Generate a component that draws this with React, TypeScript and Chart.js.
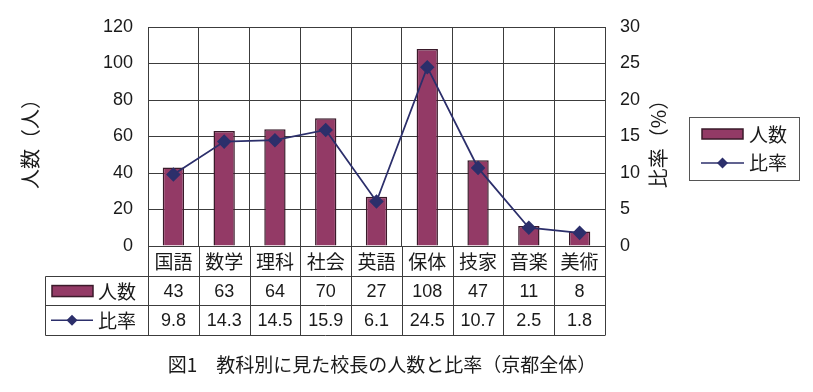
import React, { useEffect, useRef } from 'react';
import { Chart, registerables } from 'chart.js';

Chart.register(...registerables);

// ---- data ----
const categories = ['国語', '数学', '理科', '社会', '英語', '保体', '技家', '音楽', '美術'];
const counts = [43, 63, 64, 70, 27, 108, 47, 11, 8];
const ratios = [9.8, 14.3, 14.5, 15.9, 6.1, 24.5, 10.7, 2.5, 1.8];
const seriesLabels = ['人数', '比率'];
const countAxis = [0, 120, 20]; // min, max, step
const ratioAxis = [0, 30, 5];
const leftTitle = '人数（人）';
const rightTitle = '比率（%）';
const caption = '図1　教科別に見た校長の人数と比率（京都全体）';

// ---- styles ----
const BAR_COLOR = '#933A66';
const BAR_BORDER = '#3A1A2A';
const LINE_COLOR = '#2C2F6B';
const GRID = '#3c3c3c';
const TEXT = '#1a1a1a';
const CJK = '"Noto Sans CJK JP", "Noto Sans", sans-serif';
const NUM = '"Liberation Sans", Arial, sans-serif';

function drawDiamond(ctx: CanvasRenderingContext2D, cx: number, cy: number, r: number) {
  ctx.beginPath();
  ctx.moveTo(cx, cy - r);
  ctx.lineTo(cx + r, cy);
  ctx.lineTo(cx, cy + r);
  ctx.lineTo(cx - r, cy);
  ctx.closePath();
  ctx.fillStyle = LINE_COLOR;
  ctx.fill();
}

function drawBarKey(ctx: CanvasRenderingContext2D, x: number, y: number, w: number, h: number) {
  ctx.fillStyle = BAR_COLOR;
  ctx.fillRect(x, y, w, h);
  ctx.strokeStyle = BAR_BORDER;
  ctx.lineWidth = 1.5;
  ctx.strokeRect(x, y, w, h);
}

function drawLineKey(ctx: CanvasRenderingContext2D, x1: number, x2: number, y: number) {
  ctx.strokeStyle = LINE_COLOR;
  ctx.lineWidth = 1.5;
  ctx.beginPath();
  ctx.moveTo(x1, y);
  ctx.lineTo(x2, y);
  ctx.stroke();
  drawDiamond(ctx, (x1 + x2) / 2, y, 5.5);
}

const decorPlugin = {
  id: 'decor',
  afterDraw(chart: any) {
    const ctx: CanvasRenderingContext2D = chart.ctx;
    const { left, right, bottom } = chart.chartArea;
    const n = categories.length;
    const cw = (right - left) / n;
    const rowH = 29.7;
    const tableLeft = 45.5;
    const a = (v: number) => Math.round(v) + 0.5;
    const line = (x1: number, y1: number, x2: number, y2: number) => {
      ctx.beginPath();
      ctx.moveTo(x1, y1);
      ctx.lineTo(x2, y2);
      ctx.stroke();
    };
    ctx.save();
    ctx.strokeStyle = GRID;
    ctx.lineWidth = 1;
    for (let i = 0; i <= n; i++) {
      const xx = a(left + i * cw);
      line(xx, bottom, xx, bottom + 3 * rowH);
    }
    for (let r = 1; r <= 3; r++) {
      const yy = a(bottom + r * rowH);
      line(tableLeft, yy, a(right), yy);
    }
    line(tableLeft, a(bottom + rowH), tableLeft, a(bottom + 3 * rowH));

    ctx.fillStyle = TEXT;
    ctx.textAlign = 'center';
    ctx.textBaseline = 'middle';
    // category labels
    ctx.font = `19px ${CJK}`;
    categories.forEach((c, i) => {
      ctx.fillStyle = TEXT;
      ctx.fillText(c, left + (i + 0.5) * cw, bottom + rowH / 2 + 1);
    });
    // values
    ctx.font = `18px ${NUM}`;
    counts.forEach((v, i) => {
      ctx.fillStyle = TEXT;
      ctx.fillText(String(v), left + (i + 0.5) * cw, bottom + rowH * 1.5 + 1);
    });
    ratios.forEach((v, i) => {
      ctx.fillStyle = TEXT;
      ctx.fillText(v.toFixed(1), left + (i + 0.5) * cw, bottom + rowH * 2.5 + 1);
    });
    // table legend keys
    const r1 = bottom + rowH * 1.5;
    const r2 = bottom + rowH * 2.5;
    drawBarKey(ctx, 52, r1 - 5, 41, 11);
    drawLineKey(ctx, 51, 93, r2);
    ctx.font = `19px ${CJK}`;
    ctx.fillStyle = TEXT;
    ctx.textAlign = 'left';
    ctx.fillText(seriesLabels[0], 98, r1 + 1);
    ctx.fillText(seriesLabels[1], 98, r2 + 1);

    // legend box
    ctx.strokeStyle = '#555';
    ctx.lineWidth = 1;
    ctx.strokeRect(689.5, 117.5, 110, 63);
    drawBarKey(ctx, 702, 129, 41, 10);
    drawLineKey(ctx, 701, 744, 163);
    ctx.fillStyle = TEXT;
    ctx.font = `19px ${CJK}`;
    ctx.fillText(seriesLabels[0], 749, 135);
    ctx.fillText(seriesLabels[1], 749, 163);

    // axis titles
    ctx.textAlign = 'center';
    ctx.font = `20px ${CJK}`;
    ctx.save();
    ctx.translate(30, 139);
    ctx.rotate(-Math.PI / 2);
    ctx.fillText(leftTitle, 0, 0);
    ctx.restore();
    ctx.save();
    ctx.translate(658, 139);
    ctx.rotate(-Math.PI / 2);
    ctx.fillText(rightTitle, 0, 0);
    ctx.restore();

    // caption
    ctx.font = `19px ${CJK}`;
    ctx.fillText(caption, 382, 365);
    ctx.restore();
  },
};

export default function App() {
  const ref = useRef<HTMLCanvasElement | null>(null);
  useEffect(() => {
    if (!ref.current) return;
    const chart = new Chart(ref.current, {
      type: 'bar',
      data: {
        labels: categories,
        datasets: [
          {
            type: 'line',
            label: seriesLabels[1],
            data: ratios,
            yAxisID: 'y1',
            borderColor: LINE_COLOR,
            backgroundColor: LINE_COLOR,
            borderWidth: 1.8,
            pointStyle: 'rectRot',
            pointRadius: 6,
            pointBackgroundColor: LINE_COLOR,
            pointBorderColor: LINE_COLOR,
            tension: 0,
            order: 0,
          } as any,
          {
            type: 'bar',
            label: seriesLabels[0],
            data: counts,
            yAxisID: 'y',
            backgroundColor: BAR_COLOR,
            borderColor: BAR_BORDER,
            borderWidth: 1.5,
            barPercentage: 0.42,
            categoryPercentage: 1,
            order: 1,
          },
        ],
      },
      options: {
        responsive: false,
        animation: false,
        layout: { padding: { left: 0, right: 0, top: 27, bottom: 0 } },
        plugins: { legend: { display: false }, tooltip: { enabled: false } },
        scales: {
          x: {
            offset: true,
            ticks: { display: false },
            grid: { display: true, offset: true, color: GRID, drawTicks: false, lineWidth: 1 },
            border: { display: true, color: GRID, width: 1 },
            afterFit: (s: any) => { s.height = 146; },
          },
          y: {
            position: 'left',
            min: countAxis[0],
            max: countAxis[1],
            ticks: {
              stepSize: countAxis[2],
              padding: 15,
              color: TEXT,
              font: { family: NUM, size: 18 },
            },
            grid: { color: GRID, drawTicks: false, lineWidth: 1 },
            border: { display: true, color: GRID, width: 1 },
            afterFit: (s: any) => { s.width = 148; },
          },
          y1: {
            position: 'right',
            min: ratioAxis[0],
            max: ratioAxis[1],
            ticks: {
              stepSize: ratioAxis[2],
              padding: 15,
              color: TEXT,
              font: { family: NUM, size: 18 },
            },
            grid: { display: false, drawTicks: false },
            border: { display: false },
            afterFit: (s: any) => { s.width = 208; },
          },
        },
      },
      plugins: [decorPlugin],
    });
    return () => chart.destroy();
  }, []);
  return (
    <div style={{ position: 'absolute', left: 0, top: 0, width: 813, height: 392, background: '#fff' }}>
      <canvas ref={ref} width={813} height={392} />
    </div>
  );
}
